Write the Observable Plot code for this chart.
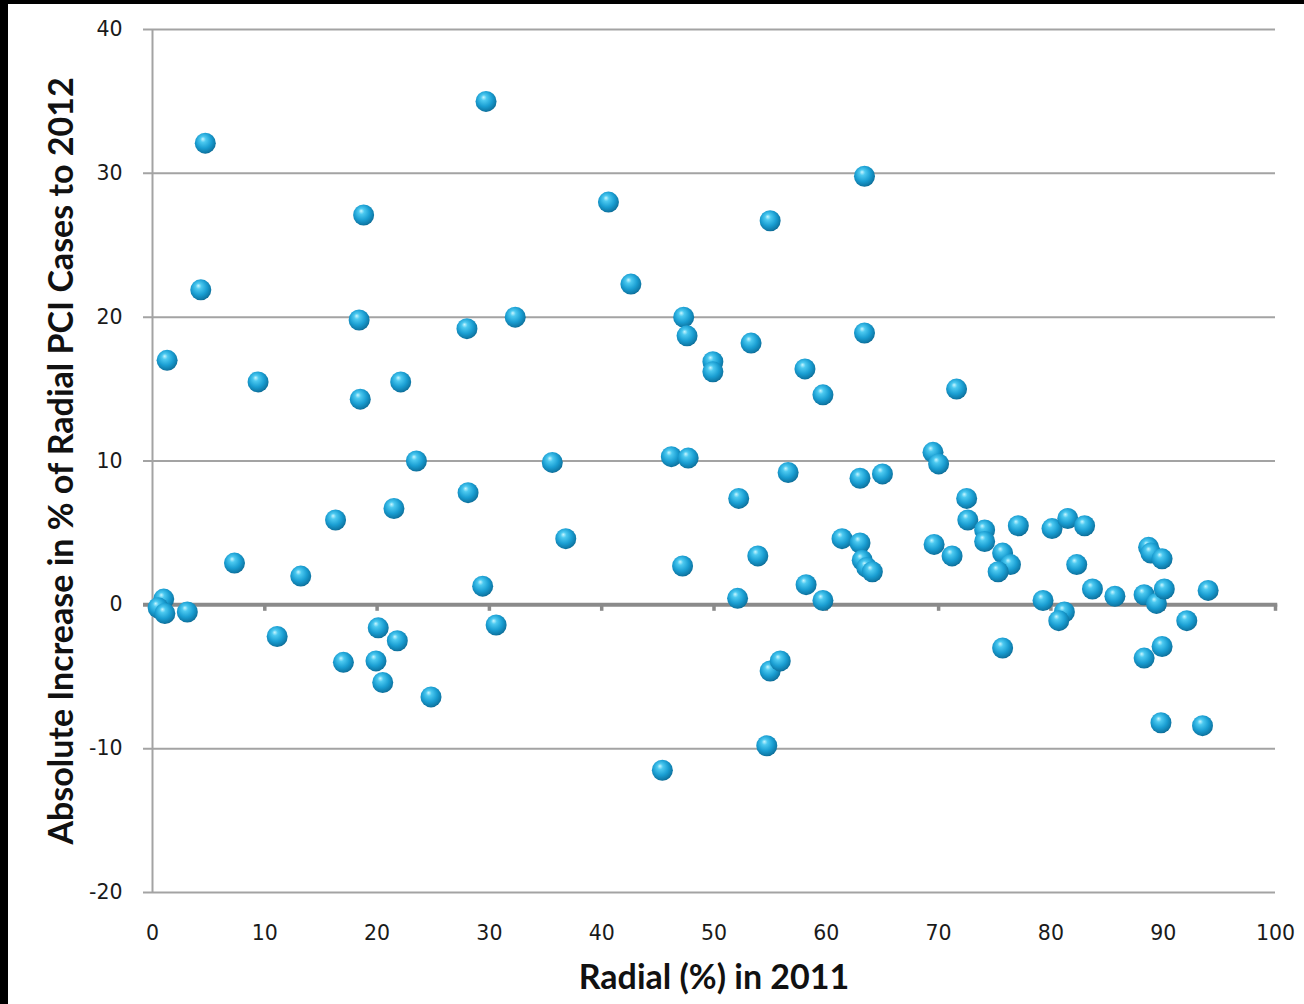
<!DOCTYPE html>
<html>
<head>
<meta charset="utf-8">
<script src="https://cdn.jsdelivr.net/npm/d3@7"></script>
<script src="https://cdn.jsdelivr.net/npm/@observablehq/plot@0.6"></script>
<style>
  html, body { margin: 0; padding: 0; background: #000; }
  #chart { position: absolute; left: 8px; top: 4px; width: 1296px; height: 1000px; background: #fff; }
</style>
</head>
<body>
<div id="chart"></div>
<script>
// Radial share of PCI in 2011 (%)
const radial2011 = [
  4.7, 29.7, 18.8, 4.3, 1.3, 18.4, 9.4, 18.5, 22.1, 28.0,
  32.3, 23.5, 28.1, 16.3, 21.5, 7.3, 13.2, 1.0, 0.5, 1.1,
  3.1, 11.1, 17.0, 20.1, 19.9, 21.8, 20.5, 24.8, 29.4, 30.6,
  35.6, 36.8, 40.6, 42.6, 45.4, 47.3, 47.6, 46.2, 47.7, 47.2,
  49.9, 49.9, 53.3, 55.0, 52.2, 52.1, 53.9, 56.6, 55.0, 55.9,
  54.7, 58.1, 59.7, 58.2, 59.7, 63.4, 63.4, 63.0, 65.0, 61.4,
  63.0, 63.2, 63.6, 64.1, 69.5, 70.0, 71.6, 69.6, 71.2, 72.5,
  72.6, 74.1, 74.1, 77.1, 75.7, 76.4, 75.3, 75.7, 80.1, 81.5,
  83.0, 82.3, 83.7, 85.7, 79.3, 81.2, 80.7, 88.7, 88.9, 89.9,
  88.3, 89.4, 90.1, 88.3, 89.9, 92.1, 94.0, 89.8, 93.5
];
// Absolute increase in % of radial PCI cases to 2012
const increase = [
  32.1, 35.0, 27.1, 21.9, 17.0, 19.8, 15.5, 14.3, 15.5, 19.2,
  20.0, 10.0, 7.8, 5.9, 6.7, 2.9, 2.0, 0.4, -0.2, -0.6,
  -0.5, -2.2, -4.0, -1.6, -3.9, -2.5, -5.4, -6.4, 1.3, -1.4,
  9.9, 4.6, 28.0, 22.3, -11.5, 20.0, 18.7, 10.3, 10.2, 2.7,
  16.9, 16.2, 18.2, 26.7, 7.4, 0.45, 3.4, 9.2, -4.6, -3.9,
  -9.8, 16.4, 14.6, 1.4, 0.3, 29.8, 18.9, 8.8, 9.1, 4.6,
  4.3, 3.1, 2.6, 2.3, 10.6, 9.8, 15.0, 4.2, 3.4, 7.4,
  5.9, 5.2, 4.4, 5.5, 3.6, 2.8, 2.3, -3.0, 5.3, 6.0,
  5.5, 2.8, 1.1, 0.6, 0.3, -0.5, -1.1, 4.0, 3.6, 3.2,
  0.7, 0.1, 1.1, -3.7, -2.9, -1.1, 1.0, -8.2, -8.4
];
const xTicks = [0, 10, 20, 30, 40, 50, 60, 70, 80, 90, 100];
const yTicks = [-20, -10, 0, 10, 20, 30, 40];
const xLabel = "Radial (%) in 2011";
const yLabel = "Absolute Increase in % of Radial PCI Cases to 2012";

const points = radial2011.map((x, i) => ({x, y: increase[i]}));
const fmt = d => String(d);

const plot = Plot.plot({
  width: 1296,
  height: 1000,
  marginLeft: 144,
  marginRight: 29,
  marginTop: 25,
  marginBottom: 112,
  style: {background: "white", fontFamily: "'DejaVu Sans', Verdana, sans-serif", fontSize: "20.5px", color: "#1a1a1a"},
  x: {domain: [0, 100]},
  y: {domain: [-20, 40]},
  marks: [
    // horizontal gridlines (extend slightly left as tick marks)
    Plot.ruleY(yTicks.filter(d => d !== 0), {x1: -0.8, x2: 100, stroke: "#a3a3a3", strokeWidth: 2}),
    // vertical axis line
    Plot.ruleX([0], {y1: -20, y2: 40, stroke: "#a3a3a3", strokeWidth: 2}),
    // zero line with tick marks
    Plot.ruleX(xTicks.filter(d => d > 0), {y1: 0, y2: -0.45, stroke: "#8a8a8a", strokeWidth: 3.5}),
    Plot.ruleY([0], {x1: -0.8, x2: 100.2, stroke: "#8a8a8a", strokeWidth: 4}),
    Plot.axisY(yTicks, {tickSize: 0, tickPadding: 30, fill: "#1a1a1a", tickFormat: fmt, label: null}),
    Plot.axisX(xTicks, {tickSize: 0, tickPadding: 33, fill: "#1a1a1a", tickFormat: fmt, label: null}),
    Plot.dot(points, {x: "x", y: "y", r: 10.5, fill: "url(#sphere)", stroke: "none"}),
    Plot.text([xLabel], {frameAnchor: "bottom", dy: 96, fontFamily: "Lato, 'Open Sans', sans-serif", fontWeight: "bold", fontSize: 34, fill: "#111"}),
    Plot.text([yLabel], {frameAnchor: "left", textAnchor: "middle", dx: -90, rotate: -90, fontFamily: "Lato, 'Open Sans', sans-serif", fontWeight: "bold", fontSize: 34, fill: "#111"})
  ]
});

d3.select(plot).insert("defs", ":first-child").html(`
  <radialGradient id="sphere" cx="45%" cy="42%" r="62%" fx="38%" fy="30%">
    <stop offset="0%" stop-color="#c8f6ff"/>
    <stop offset="22%" stop-color="#4cc9f0"/>
    <stop offset="60%" stop-color="#1a9ed2"/>
    <stop offset="88%" stop-color="#0f7aa8"/>
    <stop offset="100%" stop-color="#0b5f85"/>
  </radialGradient>`);

document.getElementById("chart").appendChild(plot);
</script>
</body>
</html>
